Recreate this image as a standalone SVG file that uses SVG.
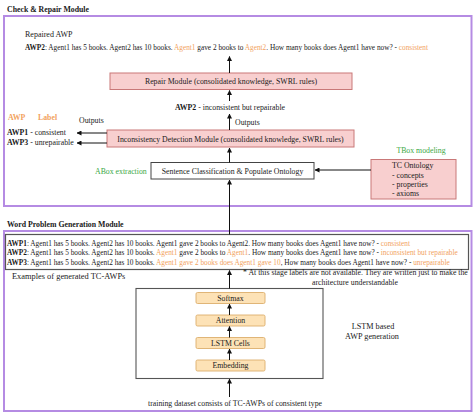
<svg xmlns="http://www.w3.org/2000/svg" width="474" height="413" viewBox="0 0 474 413">
<style>
text{font-family:"Liberation Serif","Times New Roman",serif;fill:#1a1a1a;font-size:7.8px}
.title{font-weight:bold;font-size:7.8px}
.awp{font-size:7.3px}
.b{font-weight:bold}
.o{fill:#f2a25e}
.g{fill:#3aa845}
.c{text-anchor:middle}
.module{fill:#fff;stroke:#b58be3;stroke-width:2}
.pink{fill:#f8cfcf;stroke:#c97878;stroke-width:1}
.plain{fill:#fff;stroke:#444;stroke-width:1}
.layer{fill:#fde2b6;stroke:#dcae6c;stroke-width:0.9}
.conn{stroke:#111;stroke-width:1;fill:none;marker-end:url(#ah)}
</style>
<defs>
<marker id="ah" markerUnits="userSpaceOnUse" markerWidth="5" markerHeight="5" refX="4.5" refY="2.5" orient="auto">
<path d="M0,0 L5,2.5 L0,5 z" fill="#111"/>
</marker>
</defs>
<rect width="474" height="413" fill="#fff"/>

<g id="check-repair-module">
<rect class="module" x="4" y="16" width="467.5" height="190"/>
<text class="title" x="7" y="12">Check &amp; Repair Module</text>
</g>
<g id="word-problem-module">
<rect class="module" x="4" y="231" width="467.5" height="180"/>
<text class="title" x="7" y="227">Word Problem Generation Module</text>
</g>

<g id="repaired-awp">
<text x="25" y="37" style="font-size:8px">Repaired AWP</text>
<text class="awp" x="25" y="50"><tspan class="b">AWP2</tspan>: Agent1 has 5 books. Agent2 has 10 books. <tspan class="o">Agent1</tspan> gave 2 books to <tspan class="o">Agent2</tspan>. How many books does Agent1 have now? - <tspan class="o">consistent</tspan></text>
</g>

<g id="repair-module">
<rect class="pink" x="110" y="73" width="242" height="16.5"/>
<text class="c" x="231" y="83.8">Repair Module (consolidated knowledge, SWRL rules)</text>
</g>

<g id="awp2-label">
<text x="175" y="109.5"><tspan class="b">AWP2</tspan> -  inconsistent but repairable</text>
</g>

<g id="inconsistency-module">
<rect class="pink" x="107" y="130" width="247" height="17"/>
<text class="c" x="230.5" y="141.5">Inconsistency Detection Module (consolidated knowledge, SWRL rules)</text>
</g>

<g id="outputs-left">
<text class="o b" x="8" y="120">AWP</text>
<text class="o b" x="38" y="120">Label</text>
<text x="79" y="122.5">Outputs</text>
<text x="7" y="135"><tspan class="b">AWP1</tspan> -  consistent</text>
<text x="7" y="145"><tspan class="b">AWP3</tspan> -  unrepairable</text>
</g>
<text x="235" y="124.5">Outputs</text>

<g id="sentence-classification">
<rect class="plain" x="151" y="162.5" width="163" height="16.5"/>
<text class="c" x="232.5" y="173.5">Sentence Classification &amp; Populate Ontology</text>
</g>
<text class="g" x="95" y="173.5">ABox extraction</text>

<g id="tc-ontology">
<text class="g c" x="421" y="152.5">TBox modeling</text>
<rect class="pink" x="371" y="159.5" width="85" height="39.5"/>
<text x="392" y="168">TC Ontology</text>
<text x="392" y="177.5">- concepts</text>
<text x="392" y="186.5">- properties</text>
<text x="392" y="195.5">- axioms</text>
</g>

<g id="generated-awps">
<rect x="5.5" y="234.5" width="463" height="35" fill="#fff" stroke="#555" stroke-width="1.2"/>
<text class="awp" x="7" y="245.5"><tspan class="b">AWP1</tspan>: Agent1 has 5 books. Agent2 has 10 books. Agent1 gave 2 books to Agent2. How many books does Agent1 have now? - <tspan class="o">consistent</tspan></text>
<text class="awp" x="7" y="255"><tspan class="b">AWP2</tspan>: Agent1 has 5 books. Agent2 has 10 books. <tspan class="o">Agent1</tspan> gave 2 books to <tspan class="o">Agent1</tspan>. How many books does Agent1 have now? - <tspan class="o">inconsistent but repairable</tspan></text>
<text class="awp" x="7" y="264.5"><tspan class="b">AWP3</tspan>: Agent1 has 5 books. Agent2 has 10 books. <tspan class="o">Agent1 gave 2 books does  Agent1 gave 10</tspan>, How many books does Agent1 have now? - <tspan class="o">unrepairable</tspan></text>
</g>
<text x="12" y="278.5" style="font-size:8.4px">Examples of generated TC-AWPs</text>
<text x="243" y="275">* At this stage labels are not available. They are written just to make the</text>
<text class="c" x="355" y="285">architecture understandable</text>

<g id="lstm-generator">
<rect x="136" y="288.5" width="187" height="90" fill="#fff" stroke="#555" stroke-width="1.1"/>
<text class="c" x="373" y="329" style="font-size:8.2px">LSTM based</text>
<text class="c" x="372" y="338.5" style="font-size:8.2px">AWP generation</text>
</g>
<g id="softmax">
<rect class="layer" x="196" y="292.5" width="69" height="11" rx="1.5"/>
<text class="c" x="230.5" y="300.7">Softmax</text>
</g>
<g id="attention">
<rect class="layer" x="196" y="315" width="69" height="11" rx="1.5"/>
<text class="c" x="230.5" y="323.2">Attention</text>
</g>
<g id="lstm-cells">
<rect class="layer" x="196" y="337.5" width="69" height="11" rx="1.5"/>
<text class="c" x="230.5" y="345.7">LSTM Cells</text>
</g>
<g id="embedding">
<rect class="layer" x="196" y="360" width="69" height="11" rx="1.5"/>
<text class="c" x="230.5" y="368.2">Embedding</text>
</g>
<text class="c" x="235" y="405.5">training dataset consists of TC-AWPs of consistent type</text>

<g id="connectors">
<line class="conn" x1="229.5" y1="73" x2="229.5" y2="56.5"/>
<line class="conn" x1="229.5" y1="101" x2="229.5" y2="90.5"/>
<line class="conn" x1="229.5" y1="130" x2="229.5" y2="114"/>
<line class="conn" x1="107" y1="133" x2="77" y2="133"/>
<line class="conn" x1="107" y1="143" x2="77" y2="143"/>
<line class="conn" x1="229.5" y1="162.5" x2="229.5" y2="148"/>
<line class="conn" x1="371" y1="170" x2="315" y2="170" stroke="#666"/>
<line class="conn" x1="229.5" y1="234.5" x2="229.5" y2="180"/>
<line class="conn" x1="229.5" y1="288.5" x2="229.5" y2="270.5"/>
<line class="conn" x1="229.5" y1="315" x2="229.5" y2="304"/>
<line class="conn" x1="229.5" y1="337.5" x2="229.5" y2="326.5"/>
<line class="conn" x1="229.5" y1="360" x2="229.5" y2="349"/>
<line class="conn" x1="229.5" y1="397" x2="229.5" y2="379"/>
</g>
</svg>
